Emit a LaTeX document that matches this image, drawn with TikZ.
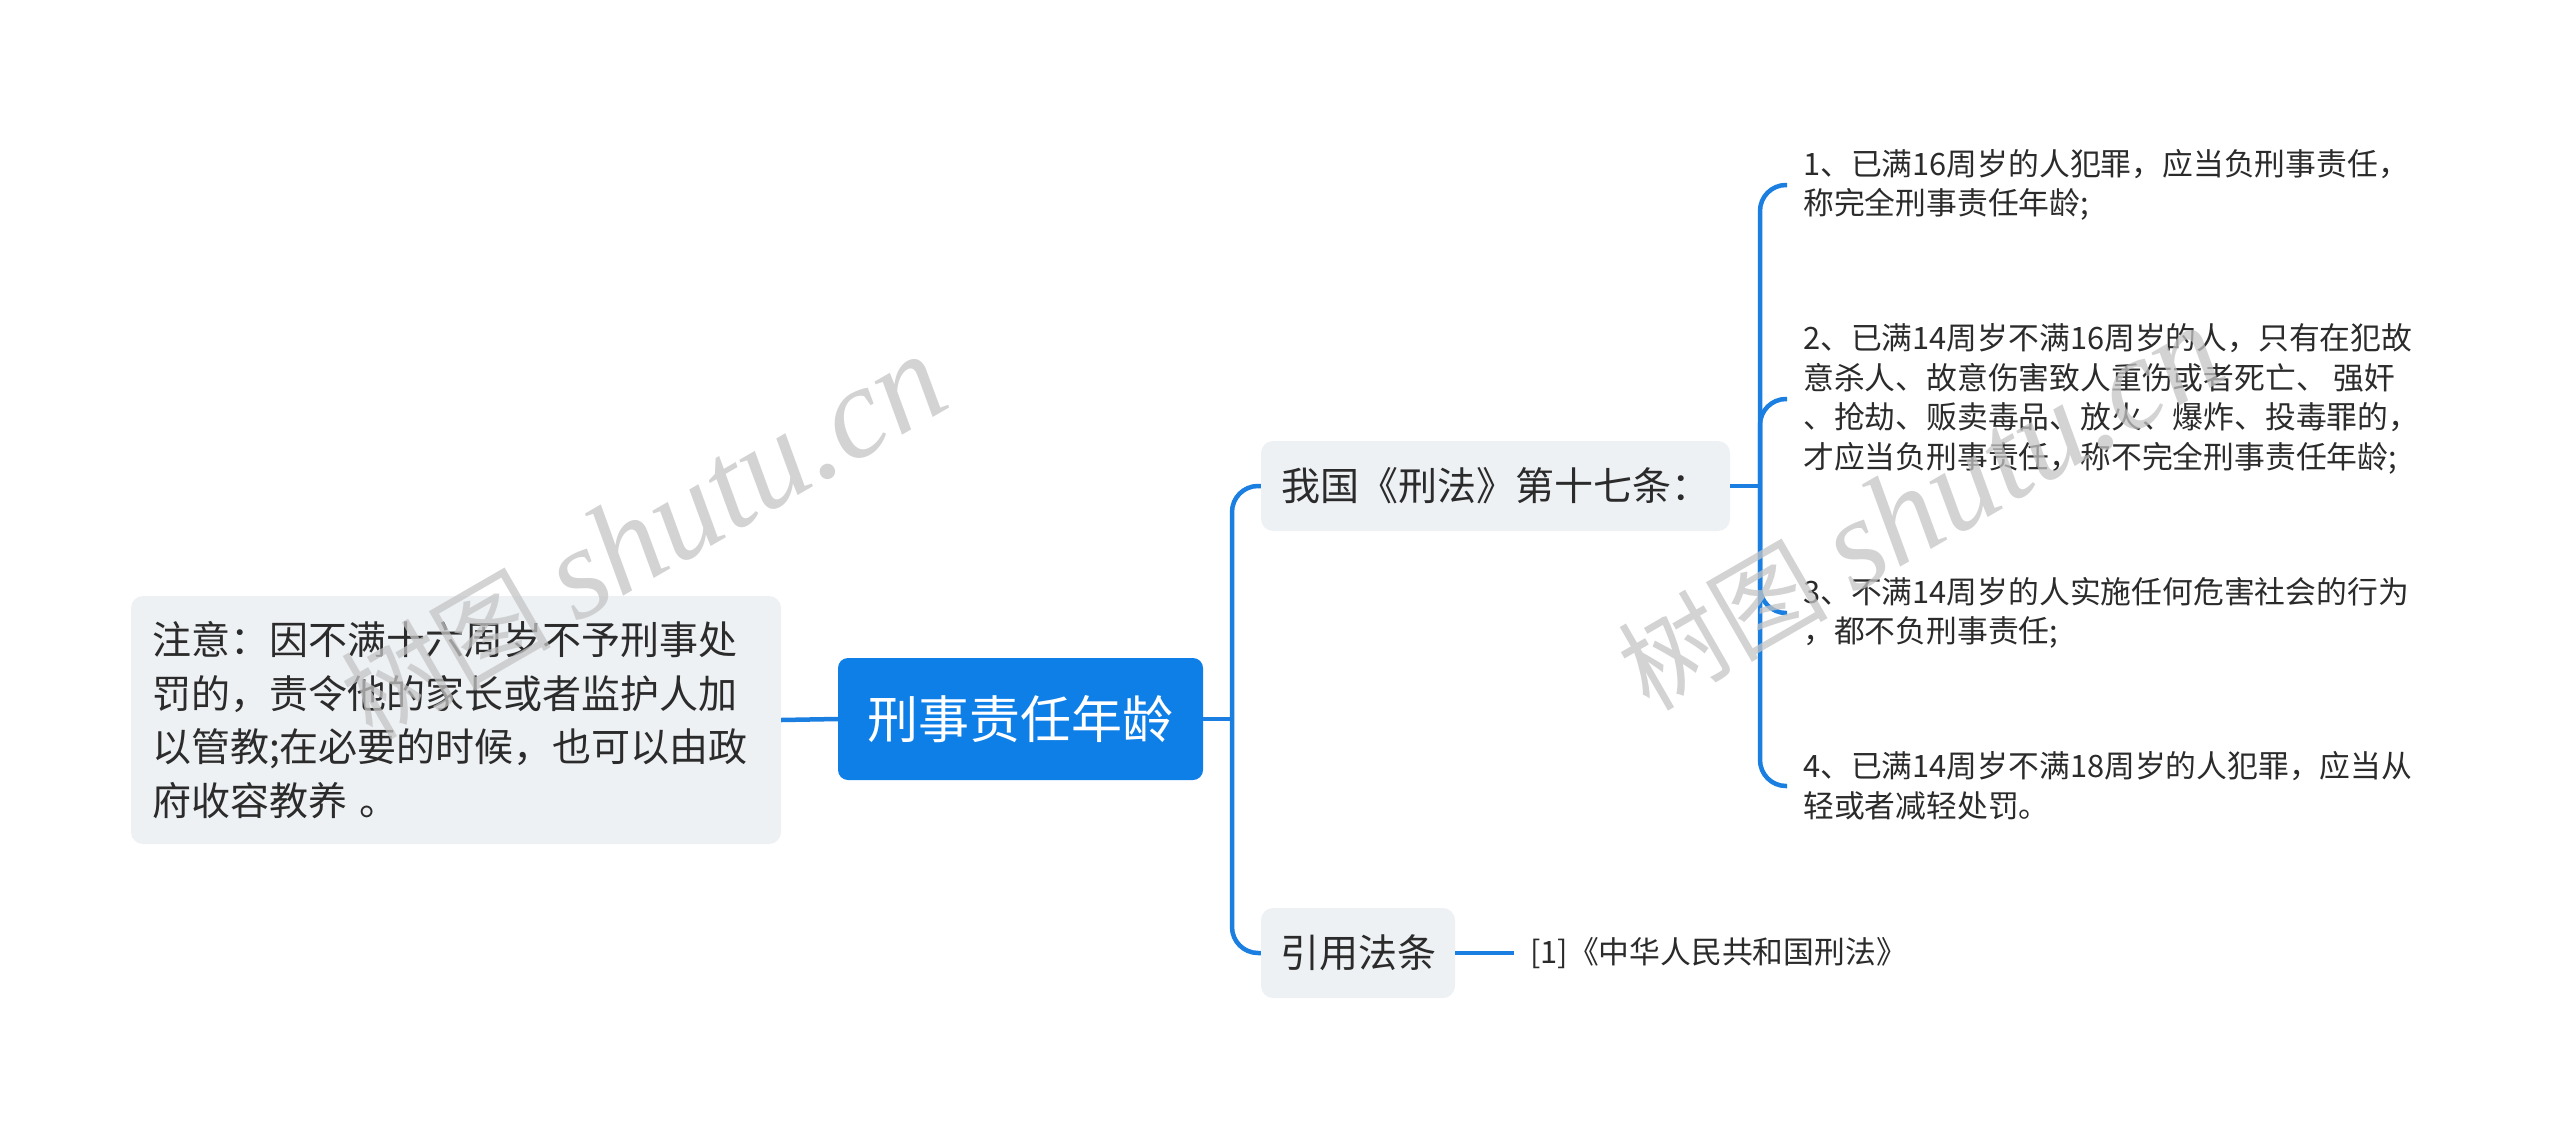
\documentclass[tikz,border=0pt]{standalone}
\usepackage{fontspec}
\setmainfont{Noto Sans CJK SC}
\newfontfamily\cjk{Noto Sans CJK SC}
\newfontfamily\wmserif{Liberation Serif}
\definecolor{blu}{HTML}{0F7FE8}
\definecolor{lnc}{HTML}{1A7FE0}
\definecolor{gfill}{HTML}{EEF1F4}
\definecolor{txt}{HTML}{2B2B2B}
\definecolor{wmc}{HTML}{C4C4C4}
\tikzset{
  conn/.style={draw=lnc, line width=4.5pt},
  rootbox/.style={fill=blu, rounded corners=10pt, minimum width=365pt, minimum height=122pt,
    text=white, font=\fontsize{51}{60}\selectfont, inner sep=0pt},
  notebox/.style={fill=gfill, rounded corners=12pt, minimum width=650pt, minimum height=248pt,
    text=txt, font=\fontsize{39}{53.5}\selectfont, align=left, text width=608pt, inner xsep=21pt},
  l1box/.style={fill=gfill, rounded corners=12pt, minimum height=90pt, inner sep=0pt,
    text=txt, font=\fontsize{39}{47}\selectfont},
  leaf/.style={text=txt, font=\fontsize{30.8}{39.7}\selectfont, align=left, inner xsep=16pt, inner ysep=0pt, anchor=west},
  wm/.style={text=wmc, opacity=0.75, inner sep=0pt}
}
\newcommand{\wmtext}{{\fontsize{105}{105}\selectfont\cjk 树图}\hspace{25pt}{\fontsize{130}{130}\selectfont\wmserif\itshape shutu.cn}}
\begin{document}
\begin{tikzpicture}[x=1pt,y=-1pt]
\useasboundingbox (0,0) rectangle (2560,1129);
% nodes
\node[rootbox] (root) at (1020.5,719) {刑事责任年龄};
\node[notebox] (note) at (456,720) {注意：因不满十六周岁不予刑事处\\罚的，责令他的家长或者监护人加\\以管教;在必要的时候，也可以由政\\府收容教养 。};
\node[l1box, minimum width=469pt] (law) at (1495.5,486) {我国《刑法》第十七条：};
\node[l1box, minimum width=194pt] (cite) at (1358,953) {引用法条};
\node[leaf] (ref) at (1514,953) {[1]《中华人民共和国刑法》};
\node[leaf] (i1) at (1787,185) {1、已满16周岁的人犯罪，应当负刑事责任，\\称完全刑事责任年龄;};
\node[leaf] (i2) at (1787,399) {2、已满14周岁不满16周岁的人，只有在犯故\\意杀人、故意伤害致人重伤或者死亡、 强奸\\、抢劫、贩卖毒品、放火、爆炸、投毒罪的，\\才应当负刑事责任，称不完全刑事责任年龄;};
\node[leaf] (i3) at (1787,613) {3、不满14周岁的人实施任何危害社会的行为\\，都不负刑事责任;};
\node[leaf] (i4) at (1787,786) {4、已满14周岁不满18周岁的人犯罪，应当从\\轻或者减轻处罚。};
% connectors
\coordinate (t) at (1232,719);
\coordinate (j) at (1760,486);
\draw[conn] (note.east) -- (root.west);
\draw[conn] (root.east) -- (t);
\draw[conn, rounded corners=26pt] (t) |- (law.west);
\draw[conn, rounded corners=26pt] (t) |- (cite.west);
\draw[conn] (law.east) -- (j);
\foreach \k in {i1,i2,i3,i4}{\draw[conn, rounded corners=26pt] (j) |- (\k.west);}
\draw[conn] (cite.east) -- (ref.west);
% watermarks
\node[wm, rotate=30] (wm1) at (643,538) {\wmtext};
\node[wm, rotate=30] (wm2) at (1920,509) {\wmtext};
\end{tikzpicture}
\end{document}
